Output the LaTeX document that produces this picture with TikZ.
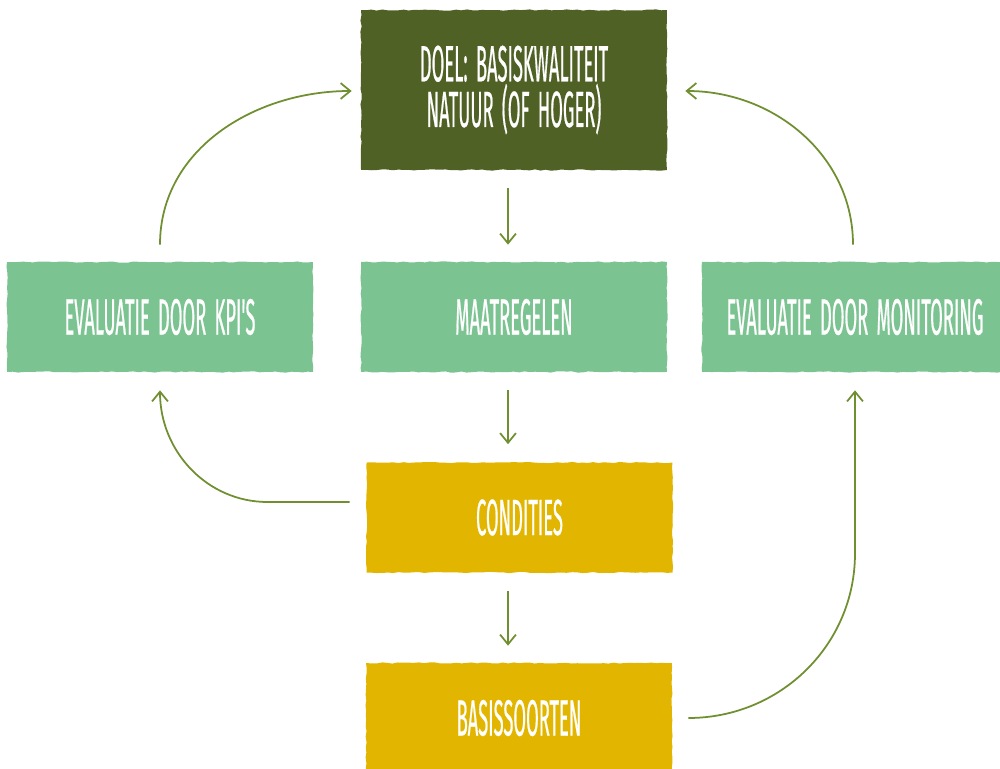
\documentclass[tikz,border=0pt]{standalone}
\usepackage{fontspec}
\newfontfamily\boxfont[FakeStretch=0.36,WordSpace=1.7,FakeBold=0.4]{Fira Sans}
\usetikzlibrary{arrows.meta,calc,decorations.pathmorphing}
\definecolor{darkolive}{HTML}{4F6125}
\definecolor{lightgreen}{HTML}{7CC392}
\definecolor{mustard}{HTML}{E2B600}
\definecolor{arrowgreen}{HTML}{6F8F30}
\begin{document}
\begin{tikzpicture}[x=0.02cm,y=0.02cm,
  boxstyle/.style={minimum width=6.12cm,minimum height=2.2cm,inner sep=0pt,
    text=white,align=center,
    font=\boxfont\fontsize{29}{26}\selectfont,
    decorate,decoration={random steps,segment length=3pt,amplitude=0.35pt}},
  doelbox/.style={boxstyle,fill=darkolive,minimum height=3.2cm},
  greenbox/.style={boxstyle,fill=lightgreen},
  yellowbox/.style={boxstyle,fill=mustard},
  conn/.style={draw=arrowgreen,line width=1pt,-{Straight Barb[length=5.5pt,width=9pt,line width=1pt]}}
]
\pgfmathsetseed{7}
\useasboundingbox (0,0) rectangle (1000,768);
\clip (0,0) rectangle (1000,768);

\node[doelbox] (doel) at (514,678) {DOEL: BASISKWALITEIT\\NATUUR (OF HOGER)};
\node[greenbox] (kpi) at (160,451) {EVALUATIE DOOR KPI'S};
\node[greenbox] (maat) at (514,451) {MAATREGELEN};
\node[greenbox] (mon) at (855,451) {EVALUATIE DOOR MONITORING};
\node[yellowbox] (cond) at (519.5,250.5) {CONDITIES};
\node[yellowbox] (basis) at (519,50) {BASISSOORTEN};

\draw[conn] ($(doel.south)+(-6,-18)$) -- ($(maat.north)+(-6,17)$);
\draw[conn] ($(maat.south)+(-6,-18)$) -- ($(cond.north)+(-11.5,18)$);
\draw[conn] ($(cond.south)+(-11.5,-18)$) -- ($(basis.north)+(-11,17)$);

\draw[conn] ($(kpi.north)+(0,17)$) to[out=90,in=180] ($(doel.west)+(-9,-1)$);
\draw[conn] ($(mon.north)+(-2,17)$) to[out=90,in=0] ($(doel.east)+(18,-1)$);

\coordinate (cl) at ($(cond.west)+(-16.5,15.5)$);
\draw[conn] (cl) -- ++(-82,0) to[out=180,in=-90] ($(kpi.south)+(0,-18)$);

\coordinate (br) at ($(basis.east)+(16,0)$);
\coordinate (brup) at ($(mon.south)+(0,-181)$);
\draw[conn] (br) to[out=0,in=-90] (brup) -- ($(mon.south)+(0,-18)$);
\end{tikzpicture}
\end{document}
